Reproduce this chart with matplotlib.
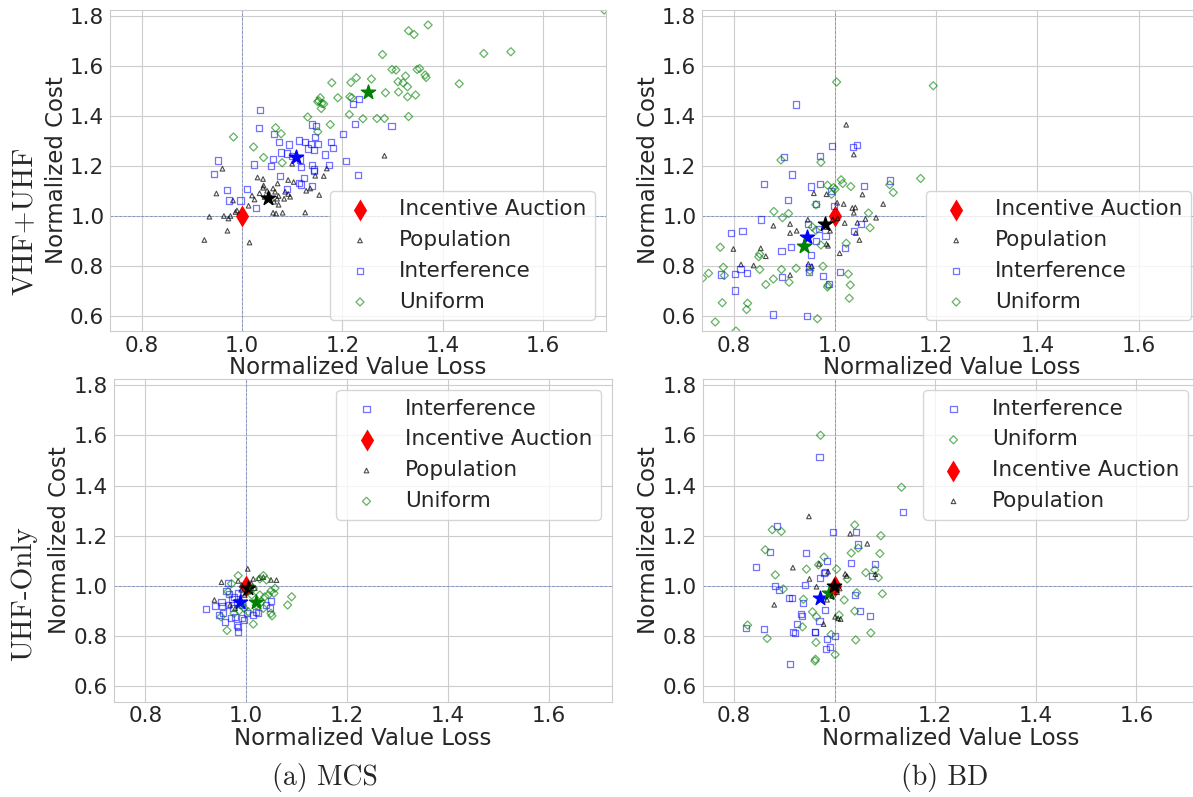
# Scatter of normalized cost vs normalized value loss, MCS / BD, VHF+UHF / UHF-Only
import matplotlib
matplotlib.use("Agg")
import matplotlib.pyplot as plt
import seaborn as sns

sns.set_style("whitegrid")
plt.rcParams["font.family"] = ["DejaVu Sans"]
plt.rcParams["axes.unicode_minus"] = False

# ---------------- data ----------------
# Incentive Auction reference point (same in every panel)
ia_x = [1.0]
ia_y = [1.0]

# (a) MCS, VHF+UHF
a_pop_x = [0.961, 1.031, 1.042, 1.092, 1.103, 1.071, 1.043, 1.042, 1.062, 1.066, 1.086, 1.092,
           0.949, 1.020, 1.025, 1.073, 1.070, 1.084, 1.096, 1.128, 1.136, 1.154, 1.163, 1.146,
           1.169, 1.100, 1.284, 0.982, 1.013, 1.073, 1.064, 1.062, 1.068, 1.081, 1.126, 0.990,
           0.987, 0.935, 0.964, 0.973, 0.977, 0.971, 0.925, 1.015, 1.045, 1.055, 1.035, 1.050]
a_pop_y = [1.188, 1.153, 1.147, 1.143, 1.135, 1.129, 1.121, 1.112, 1.109, 1.096, 1.096, 1.087,
           1.089, 1.081, 1.065, 1.079, 1.068, 1.068, 1.076, 1.100, 1.109, 1.083, 1.159, 1.160,
           1.189, 1.208, 1.240, 1.061, 1.040, 1.044, 1.056, 1.012, 1.009, 1.012, 1.013, 1.021,
           1.015, 0.996, 0.999, 0.989, 0.999, 0.940, 0.903, 0.893, 1.075, 1.085, 1.090, 1.100]
a_int_x = [1.035, 1.033, 1.064, 1.074, 1.093, 1.113, 1.125, 1.140, 1.147, 1.146, 1.138, 1.151,
           1.132, 1.143, 1.178, 1.181, 1.201, 1.221, 1.233, 1.225, 1.298, 1.166, 1.208, 1.078,
           1.090, 1.062, 1.023, 1.058, 1.118, 1.140, 1.143, 1.144, 1.173, 0.953, 0.945, 1.075,
           1.124, 1.114, 1.118, 1.140, 1.090, 1.232, 0.971, 1.010, 0.975, 0.997, 1.027, 1.100,
           1.115]
a_int_y = [1.423, 1.352, 1.328, 1.296, 1.285, 1.301, 1.296, 1.365, 1.359, 1.316, 1.287, 1.287,
           1.269, 1.263, 1.296, 1.272, 1.328, 1.448, 1.468, 1.368, 1.359, 1.245, 1.219, 1.253,
           1.249, 1.227, 1.205, 1.199, 1.196, 1.203, 1.185, 1.179, 1.203, 1.221, 1.167, 1.159,
           1.152, 1.132, 1.125, 1.120, 1.108, 1.164, 1.104, 1.108, 1.061, 1.061, 1.031, 1.240,
           1.225]
a_uni_x = [1.722, 1.371, 1.332, 1.343, 1.280, 1.482, 1.536, 1.299, 1.307, 1.349, 1.354, 1.365,
           1.367, 1.326, 1.311, 1.321, 1.330, 1.258, 1.228, 1.217, 1.179, 1.433, 1.286, 1.312,
           1.346, 1.330, 1.215, 1.219, 1.191, 1.156, 1.153, 1.159, 1.151, 1.163, 1.158, 1.214,
           1.131, 1.241, 1.269, 1.284, 1.332, 1.176, 1.067, 1.078, 1.151, 0.983, 1.023, 1.043,
           1.080]
a_uni_y = [1.823, 1.763, 1.740, 1.725, 1.645, 1.649, 1.656, 1.585, 1.583, 1.585, 1.589, 1.563,
           1.553, 1.559, 1.536, 1.532, 1.516, 1.547, 1.552, 1.533, 1.532, 1.528, 1.492, 1.495,
           1.483, 1.476, 1.476, 1.472, 1.472, 1.472, 1.460, 1.449, 1.456, 1.447, 1.429, 1.405,
           1.395, 1.388, 1.389, 1.389, 1.397, 1.365, 1.352, 1.328, 1.336, 1.315, 1.275, 1.233,
           1.212]
a_means = {"Population": (1.052, 1.073), "Interference": (1.108, 1.236), "Uniform": (1.252, 1.493)}

# (b) BD, VHF+UHF
b_pop_x = [1.022, 1.037, 0.958, 0.983, 1.054, 1.004, 1.017, 1.034, 1.040, 1.037, 1.095, 1.081,
           1.060, 1.044, 1.019, 0.878, 0.911, 0.911, 0.924, 0.946, 1.041, 1.048, 1.009, 0.983,
           0.986, 0.799, 0.853, 0.863, 0.839, 0.814, 0.947, 0.954, 0.911, 0.983, 0.990, 0.995,
           1.005]
b_pop_y = [1.364, 1.245, 1.090, 1.086, 1.085, 1.052, 1.047, 1.031, 1.033, 1.012, 1.047, 0.992,
           0.987, 0.972, 0.971, 0.960, 0.967, 0.931, 0.940, 0.984, 0.931, 0.903, 0.850, 0.887,
           0.880, 0.867, 0.870, 0.838, 0.801, 0.805, 0.807, 0.798, 0.763, 0.955, 0.940, 0.985,
           0.990]
b_int_x = [0.923, 0.994, 1.036, 1.044, 0.899, 0.970, 0.915, 0.860, 0.952, 0.970, 1.057, 1.108,
           0.907, 0.962, 0.992, 0.997, 0.854, 0.817, 0.794, 0.947, 0.969, 0.981, 1.038, 1.052,
           0.894, 0.912, 0.962, 1.019, 0.952, 0.802, 0.826, 0.813, 0.774, 0.895, 0.948, 0.949,
           0.977, 1.010, 0.987, 0.802, 0.878, 0.945]
b_int_y = [1.445, 1.279, 1.275, 1.282, 1.235, 1.239, 1.165, 1.126, 1.117, 1.126, 1.120, 1.141,
           1.063, 1.047, 1.100, 1.040, 0.985, 0.940, 0.930, 0.967, 0.947, 0.920, 0.938, 0.967,
           0.858, 0.874, 0.898, 0.870, 0.843, 0.767, 0.771, 0.787, 0.765, 0.754, 0.774, 0.794,
           0.759, 0.774, 0.727, 0.701, 0.605, 0.598]
b_uni_x = [1.003, 1.194, 0.893, 0.972, 1.012, 1.015, 1.031, 0.985, 0.997, 1.169, 1.108, 1.115,
           0.962, 0.879, 0.896, 0.908, 1.066, 1.069, 0.773, 0.779, 0.781, 0.851, 0.849, 0.851,
           0.894, 0.878, 0.863, 0.909, 0.923, 0.976, 0.950, 1.026, 1.030, 1.028, 0.985, 0.986,
           1.022, 0.972, 0.777, 0.827, 0.825, 0.804, 0.965, 0.738, 0.750, 0.763, 0.955, 0.962,
           0.993, 1.000]
b_uni_y = [1.535, 1.520, 1.223, 1.214, 1.144, 1.129, 1.117, 1.122, 1.113, 1.149, 1.124, 1.093,
           1.044, 1.017, 0.992, 1.009, 1.011, 0.952, 0.874, 0.794, 0.761, 0.847, 0.836, 0.785,
           0.785, 0.747, 0.725, 0.734, 0.790, 0.798, 0.781, 0.767, 0.723, 0.670, 0.715, 0.722,
           0.890, 0.883, 0.652, 0.650, 0.625, 0.539, 0.588, 0.750, 0.770, 0.575, 0.955, 0.942,
           1.086, 1.106]
b_means = {"Population": (0.981, 0.967), "Interference": (0.944, 0.916), "Uniform": (0.939, 0.880)}

# (a) MCS, UHF-Only
c_pop_x = [1.003, 0.951, 0.937, 1.014, 1.025, 1.034, 1.049, 1.060, 0.984, 0.991, 1.007, 1.017,
           0.968, 0.978, 1.004, 0.997, 0.990, 1.010]
c_pop_y = [1.068, 1.015, 0.944, 1.028, 1.031, 1.035, 1.024, 1.023, 1.020, 1.004, 0.997, 0.991,
           0.924, 0.911, 0.977, 0.964, 0.985, 1.010]
c_int_x = [0.921, 0.939, 0.951, 0.953, 0.954, 0.963, 0.961, 0.966, 0.970, 0.978, 0.991, 0.981,
           0.983, 0.984, 0.996, 1.001, 0.981, 0.991, 0.974, 0.964, 0.971, 1.050, 1.040, 1.047,
           1.014, 1.020, 0.994, 0.984, 0.976, 0.946, 0.958, 1.024]
c_int_y = [0.908, 0.921, 0.937, 0.921, 0.891, 1.013, 0.980, 0.968, 0.871, 0.877, 0.871, 0.844,
           0.817, 0.837, 0.864, 0.891, 0.937, 0.924, 0.911, 0.924, 0.948, 0.941, 0.924, 0.911,
           0.884, 0.897, 0.977, 0.971, 0.957, 0.884, 0.857, 0.893]
c_uni_x = [0.984, 1.034, 1.040, 1.027, 1.057, 1.055, 1.090, 1.082, 1.049, 1.051, 1.014, 0.962,
           0.950, 0.971, 0.964, 1.030, 1.037, 1.027, 1.020, 1.034, 1.044, 1.011, 1.014, 0.996,
           1.004, 0.986, 0.976, 1.049]
c_uni_y = [1.041, 1.041, 1.024, 1.028, 0.991, 0.971, 0.957, 0.924, 0.891, 0.881, 0.848, 0.823,
           0.877, 1.009, 0.977, 0.937, 0.957, 0.964, 0.924, 0.911, 0.964, 0.964, 0.991, 0.911,
           0.897, 0.901, 0.891, 0.980]
c_means = {"Population": (1.004, 0.991), "Interference": (0.987, 0.937), "Uniform": (1.020, 0.937)}

# (b) BD, UHF-Only
d_pop_x = [0.949, 1.031, 1.065, 0.917, 0.950, 0.969, 0.987, 1.021, 1.024, 1.081, 0.880, 0.964,
           0.978, 1.001, 1.007, 1.012, 0.995, 1.005, 0.985, 1.010]
d_pop_y = [1.277, 1.208, 1.168, 1.073, 1.028, 1.088, 1.057, 1.048, 1.040, 1.047, 0.925, 0.997,
           0.848, 0.877, 0.871, 0.868, 0.960, 0.975, 0.945, 0.990]
d_int_x = [0.970, 1.136, 0.885, 0.871, 0.944, 0.996, 1.042, 1.046, 1.032, 1.080, 1.075, 0.984,
           0.843, 0.882, 0.890, 0.942, 0.910, 0.937, 1.040, 1.051, 1.071, 0.933, 0.935, 0.925,
           0.921, 0.970, 0.961, 0.984, 0.991, 0.983, 1.001, 0.824, 0.860, 0.911, 0.981, 0.978,
           0.971, 0.981, 0.915, 0.918, 0.961]
d_int_y = [1.512, 1.296, 1.239, 1.136, 1.133, 1.215, 1.215, 1.165, 1.093, 1.089, 1.041, 1.100,
           1.077, 1.000, 0.983, 1.004, 0.951, 0.933, 0.964, 0.899, 0.879, 0.887, 0.880, 0.847,
           0.813, 0.861, 0.815, 0.787, 0.757, 0.748, 0.801, 0.833, 0.827, 0.688, 0.904, 1.051,
           1.031, 1.057, 0.951, 0.815, 0.817]
d_uni_x = [0.972, 1.133, 1.040, 1.092, 0.876, 0.894, 0.862, 1.033, 1.047, 1.090, 0.979, 0.968,
           0.882, 0.944, 1.004, 1.062, 1.080, 1.087, 1.025, 0.898, 1.095, 1.044, 1.019, 0.938,
           0.956, 0.964, 1.009, 0.936, 1.040, 1.072, 1.042, 0.963, 0.993, 1.001, 0.961, 0.962,
           0.827, 0.866]
d_uni_y = [1.600, 1.393, 1.243, 1.200, 1.224, 1.217, 1.144, 1.131, 1.151, 1.129, 1.115, 1.084,
           1.044, 1.067, 1.067, 1.053, 1.064, 1.033, 1.028, 0.988, 0.969, 0.973, 0.944, 0.947,
           0.897, 0.877, 0.884, 0.837, 0.900, 0.813, 0.785, 0.775, 0.807, 0.727, 0.701, 0.708,
           0.844, 0.791]
d_means = {"Population": (0.999, 1.000), "Interference": (0.971, 0.951), "Uniform": (0.989, 0.971)}

x_ticks = [0.8, 1.0, 1.2, 1.4, 1.6]
y_ticks = [0.6, 0.8, 1.0, 1.2, 1.4, 1.6, 1.8]

# ---------------- styles ----------------
styles = {
    "Incentive Auction": dict(marker="d", s=125, color="red", linewidths=0),
    "Population": dict(marker="^", s=11, facecolors="none", edgecolors="k", alpha=0.7, linewidths=0.8),
    "Interference": dict(marker="s", s=19, facecolors="none", edgecolors="b", alpha=0.55, linewidths=0.9),
    "Uniform": dict(marker="D", s=17, facecolors="none", edgecolors="g", alpha=0.6, linewidths=0.9),
}
star_colors = {"Population": "k", "Interference": "b", "Uniform": "g"}

W, H = 1193, 797
fig = plt.figure(figsize=(W / 100, H / 100), dpi=100)


def px_axes(x0, y0, x1, y1):
    return fig.add_axes([x0 / W, 1 - y1 / H, (x1 - x0) / W, (y1 - y0) / H])


def draw_panel(ax, order, points, means, loc):
    ax.axhline(1.0, ls="--", dashes=(3, 1.5), lw=0.7, color="#8797c4", zorder=1)
    ax.axvline(1.0, ls="--", dashes=(3, 1.5), lw=0.7, color="#8797c4", zorder=1)
    for name in order:
        if name == "Incentive Auction":
            ax.scatter(ia_x, ia_y, label=name, zorder=2, **styles[name])
        else:
            xs, ys = points[name]
            ax.scatter(xs, ys, label=name, zorder=2, **styles[name])
            mx, my = means[name]
            ax.scatter([mx], [my], marker="*", s=115, color=star_colors[name], zorder=2)
    ax.set_xlim(0.7375, 1.7246)
    ax.set_ylim(0.539, 1.823)
    ax.set_xticks(x_ticks)
    ax.set_yticks(y_ticks)
    ax.tick_params(axis="x", labelsize=15.5, length=0, pad=3.3)
    ax.tick_params(axis="y", labelsize=15.5, length=0, pad=4.3)
    ax.set_xlabel("Normalized Value Loss", fontsize=16.5, labelpad=0.5)
    ax.set_ylabel("Normalized Cost", fontsize=16.5, labelpad=1.5)
    ax.legend(loc=loc, fontsize=15.5)


order_top = ["Incentive Auction", "Population", "Interference", "Uniform"]

ax1 = px_axes(110.3, 10, 605.5, 331)
draw_panel(ax1, order_top,
           {"Population": (a_pop_x, a_pop_y), "Interference": (a_int_x, a_int_y), "Uniform": (a_uni_x, a_uni_y)},
           a_means, "lower right")

ax2 = px_axes(702.3, 10, 1201.7, 331)
draw_panel(ax2, order_top,
           {"Population": (b_pop_x, b_pop_y), "Interference": (b_int_x, b_int_y), "Uniform": (b_uni_x, b_uni_y)},
           b_means, "lower right")

ax3 = px_axes(113.7, 379.3, 612, 701.7)
draw_panel(ax3, ["Interference", "Incentive Auction", "Population", "Uniform"],
           {"Population": (c_pop_x, c_pop_y), "Interference": (c_int_x, c_int_y), "Uniform": (c_uni_x, c_uni_y)},
           c_means, "upper right")

ax4 = px_axes(702.6, 379.3, 1199, 701.7)
draw_panel(ax4, ["Interference", "Uniform", "Incentive Auction", "Population"],
           {"Population": (d_pop_x, d_pop_y), "Interference": (d_int_x, d_int_y), "Uniform": (d_uni_x, d_uni_y)},
           d_means, "upper right")

# row and column captions (serif, LaTeX look)
fig.text(24 / W, 1 - 221 / H, "VHF+UHF", rotation=90, family="cmr10", fontsize=21,
         ha="center", va="center")
fig.text(24 / W, 1 - 594 / H, "UHF-Only", rotation=90, family="cmr10", fontsize=21,
         ha="center", va="center")
fig.text(325 / W, 1 - 777 / H, "(a) MCS", family="cmr10", fontsize=20, ha="center", va="center")
fig.text(945 / W, 1 - 777 / H, "(b) BD", family="cmr10", fontsize=20, ha="center", va="center")

fig.savefig("out.png", dpi=100)
